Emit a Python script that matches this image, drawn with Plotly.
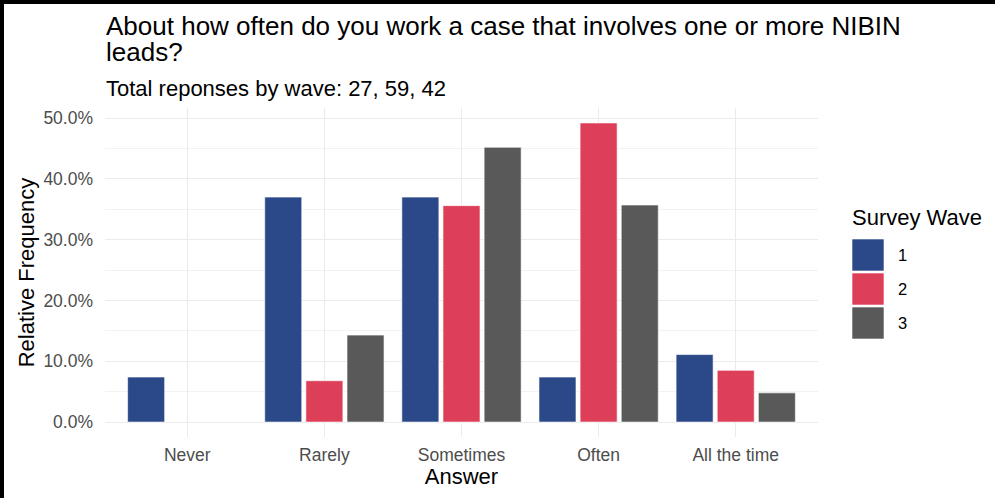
import plotly.graph_objs as go

answers = ["Never", "Rarely", "Sometimes", "Often", "All the time"]
waves = ["1", "2", "3"]
wave_colors = ["#2B4888", "#DE3F58", "#595959"]

# relative frequency per wave (n = 27, 59, 42)
wave1 = [0.074, 0.370, 0.370, 0.074, 0.111]
wave2 = [None, 0.068, 0.356, 0.492, 0.085]
wave3 = [None, 0.143, 0.452, 0.357, 0.048]

title_lines = ["About how often do you work a case that involves one or more NIBIN",
               "leads?"]
subtitle = "Total reponses by wave: 27, 59, 42"

FONT = "Liberation Sans, Arial, sans-serif"
W, H = 995, 498
ML, MR, MT, MB = 105, 177, 108, 61
PW, PH = W - ML - MR, H - MT - MB


def px_x(p):
    return (p - ML) / PW


def px_y(p):
    return 1 - (p - MT) / PH


fig = go.Figure()
for name, vals, col in zip(waves, [wave1, wave2, wave3], wave_colors):
    fig.add_trace(go.Bar(x=answers, y=vals, name=name, marker_color=col,
                         marker_line=dict(color="white", width=0.6),
                         showlegend=False))

fig.update_layout(
    width=W, height=H,
    margin=dict(l=ML, r=MR, t=MT, b=MB),
    paper_bgcolor="white", plot_bgcolor="white",
    font=dict(family=FONT, color="#4D4D4D"),
    barmode="group", bargap=0.1, bargroupgap=0.1,
)
fig.update_xaxes(
    range=[-0.6, 4.6], showgrid=True, gridcolor="#EBEBEB", gridwidth=1.3,
    zeroline=False, ticks="", tickfont=dict(size=17.5, color="#4D4D4D"),
    ticklabelstandoff=5,
    title=dict(text="Answer", font=dict(size=22, color="black"), standoff=2),
)
fig.update_yaxes(
    range=[-0.0246, 0.5166], dtick=0.1, tick0=0, tickformat=".1%",
    showgrid=True, gridcolor="#EBEBEB", gridwidth=1.3, zeroline=False,
    minor=dict(dtick=0.05, showgrid=True, gridcolor="#F2F2F2", gridwidth=0.7),
    ticks="", tickfont=dict(size=17.5, color="#4D4D4D"), ticklabelstandoff=11,
    title=dict(text="Relative Frequency", font=dict(size=22, color="black"),
               standoff=2),
)

annotations = [
    dict(text=title_lines[0], x=px_x(104), y=px_y(26), xanchor="left",
         yanchor="middle", font=dict(size=26, color="black")),
    dict(text=title_lines[1], x=px_x(104), y=px_y(52), xanchor="left",
         yanchor="middle", font=dict(size=26, color="black")),
    dict(text=subtitle, x=px_x(104), y=px_y(88), xanchor="left",
         yanchor="middle", font=dict(size=22, color="black")),
    dict(text="Survey Wave", x=px_x(850), y=px_y(217), xanchor="left",
         yanchor="middle", font=dict(size=22, color="black")),
]
shapes = []
for i, (name, col) in enumerate(zip(waves, wave_colors)):
    top = 239 + i * 34
    shapes.append(dict(type="rect", xref="paper", yref="paper",
                       x0=px_x(852), x1=px_x(884), y0=px_y(top), y1=px_y(top + 32),
                       fillcolor=col, line=dict(color="white", width=0.6)))
    annotations.append(dict(text=name, x=px_x(896), y=px_y(top + 16),
                            xanchor="left", yanchor="middle",
                            font=dict(size=16.5, color="black")))
for a in annotations:
    a.update(xref="paper", yref="paper", showarrow=False)

# black border on top and left of the image
shapes.append(dict(type="rect", xref="paper", yref="paper",
                   x0=px_x(2), x1=px_x(W + 20), y0=px_y(2), y1=px_y(H + 20),
                   line=dict(color="black", width=4)))
fig.update_layout(annotations=annotations, shapes=shapes)

fig.write_html("out.html", config={"displayModeBar": False},
               post_script="document.body.style.margin='0';")
